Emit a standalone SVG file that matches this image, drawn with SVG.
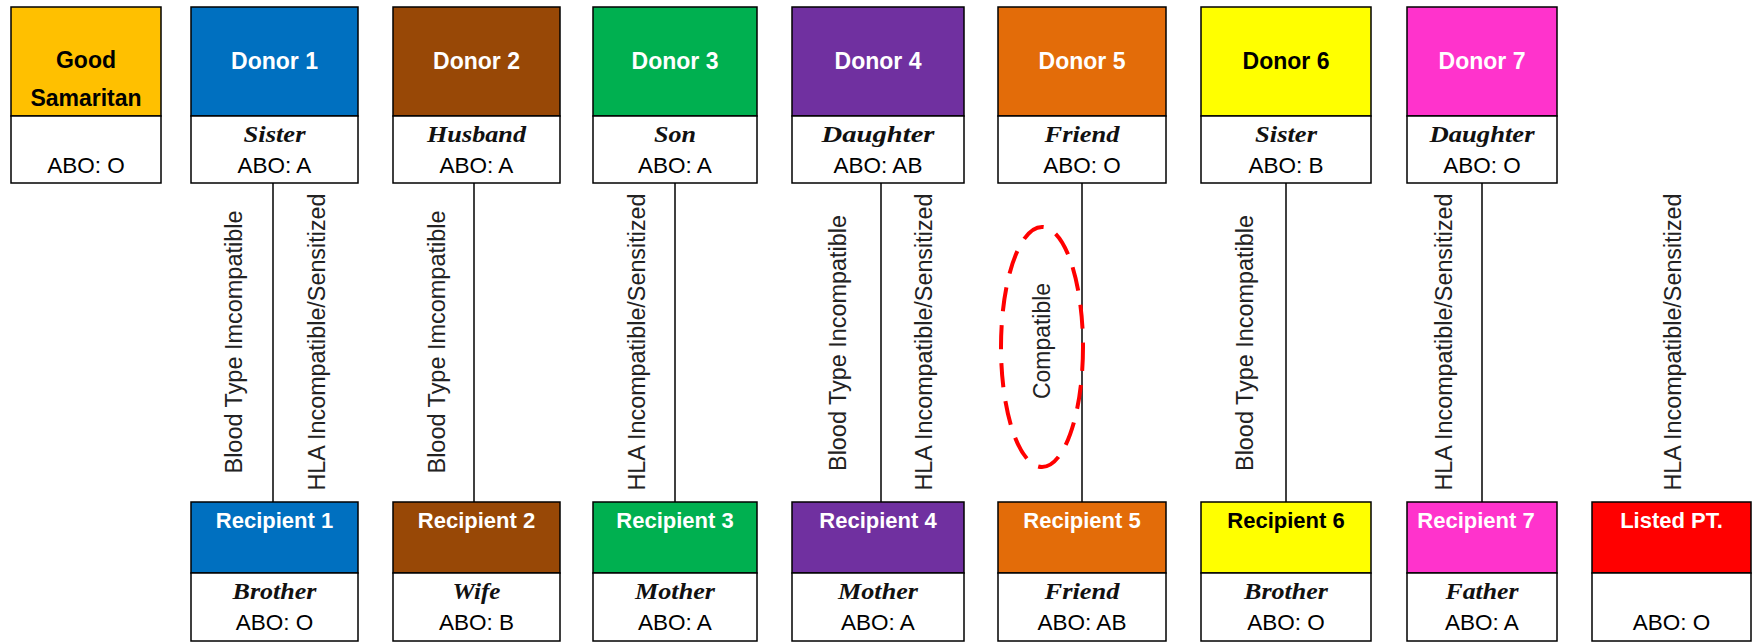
<svg xmlns="http://www.w3.org/2000/svg" width="1752" height="642" viewBox="0 0 1752 642">
<style>
  .box { stroke: #000; stroke-width: 1.5; }
  .wht { fill: #fff; stroke: #000; stroke-width: 1.5; }
  .hdr { font-family: "Liberation Sans", Arial, sans-serif; font-weight: bold; font-size: 23px; text-anchor: middle; fill: #fff; }
  .rhdr { font-family: "Liberation Sans", Arial, sans-serif; font-weight: bold; font-size: 22px; text-anchor: middle; fill: #fff; }
  .blk { fill: #000; }
  .rel { font-family: "Liberation Serif", "Times New Roman", serif; font-style: italic; font-weight: bold; font-size: 23px; text-anchor: middle; fill: #111; }
  .abo { font-family: "Liberation Sans", Arial, sans-serif; font-size: 22.5px; text-anchor: middle; fill: #000; }
  .lbl { font-family: "Liberation Sans", Arial, sans-serif; font-size: 23px; text-anchor: middle; fill: #222; }
  .conn { stroke: #000; stroke-width: 1.5; fill: none; }
  .oval { fill: none; stroke: #ff0000; stroke-width: 4; stroke-dasharray: 24 14; }
</style>

<!-- Top row -->
<g id="good-samaritan">
  <rect class="box" x="11" y="7" width="150" height="109" fill="#FFC000"/>
  <rect class="wht" x="11" y="116" width="150" height="67"/>
  <text class="hdr blk" x="86" y="68" font-size="21">Good</text>
  <text class="hdr blk" x="86" y="106" font-size="21">Samaritan</text>
  <text class="abo" x="86" y="173">ABO: O</text>
</g>
<g id="donor1">
  <rect class="box" x="191" y="7" width="167" height="109" fill="#0070C0"/>
  <rect class="wht" x="191" y="116" width="167" height="67"/>
  <text class="hdr" x="274.5" y="69">Donor 1</text>
  <text class="rel" x="274.5" y="142" textLength="62" lengthAdjust="spacingAndGlyphs">Sister</text>
  <text class="abo" x="274.5" y="173">ABO: A</text>
</g>
<g id="donor2">
  <rect class="box" x="393" y="7" width="167" height="109" fill="#984806"/>
  <rect class="wht" x="393" y="116" width="167" height="67"/>
  <text class="hdr" x="476.5" y="69">Donor 2</text>
  <text class="rel" x="476.5" y="142" textLength="99" lengthAdjust="spacingAndGlyphs">Husband</text>
  <text class="abo" x="476.5" y="173">ABO: A</text>
</g>
<g id="donor3">
  <rect class="box" x="593" y="7" width="164" height="109" fill="#00B050"/>
  <rect class="wht" x="593" y="116" width="164" height="67"/>
  <text class="hdr" x="675" y="69">Donor 3</text>
  <text class="rel" x="675" y="142" textLength="42" lengthAdjust="spacingAndGlyphs">Son</text>
  <text class="abo" x="675" y="173">ABO: A</text>
</g>
<g id="donor4">
  <rect class="box" x="792" y="7" width="172" height="109" fill="#7030A0"/>
  <rect class="wht" x="792" y="116" width="172" height="67"/>
  <text class="hdr" x="878" y="69">Donor 4</text>
  <text class="rel" x="878" y="142" textLength="113" lengthAdjust="spacingAndGlyphs">Daughter</text>
  <text class="abo" x="878" y="173">ABO: AB</text>
</g>
<g id="donor5">
  <rect class="box" x="998" y="7" width="168" height="109" fill="#E36C09"/>
  <rect class="wht" x="998" y="116" width="168" height="67"/>
  <text class="hdr" x="1082" y="69">Donor 5</text>
  <text class="rel" x="1082" y="142" textLength="75" lengthAdjust="spacingAndGlyphs">Friend</text>
  <text class="abo" x="1082" y="173">ABO: O</text>
</g>
<g id="donor6">
  <rect class="box" x="1201" y="7" width="170" height="109" fill="#FFFF00"/>
  <rect class="wht" x="1201" y="116" width="170" height="67"/>
  <text class="hdr blk" x="1286" y="69">Donor 6</text>
  <text class="rel" x="1286" y="142" textLength="62" lengthAdjust="spacingAndGlyphs">Sister</text>
  <text class="abo" x="1286" y="173">ABO: B</text>
</g>
<g id="donor7">
  <rect class="box" x="1407" y="7" width="150" height="109" fill="#FF33CC"/>
  <rect class="wht" x="1407" y="116" width="150" height="67"/>
  <text class="hdr" x="1482" y="69">Donor 7</text>
  <text class="rel" x="1482" y="142" textLength="105" lengthAdjust="spacingAndGlyphs">Daughter</text>
  <text class="abo" x="1482" y="173">ABO: O</text>
</g>

<!-- Bottom row -->
<g id="recipient1">
  <rect class="box" x="191" y="502" width="167" height="71" fill="#0070C0"/>
  <rect class="wht" x="191" y="573" width="167" height="68"/>
  <text class="rhdr" x="274.5" y="528">Recipient 1</text>
  <text class="rel" x="274.5" y="599" textLength="84" lengthAdjust="spacingAndGlyphs">Brother</text>
  <text class="abo" x="274.5" y="630">ABO: O</text>
</g>
<g id="recipient2">
  <rect class="box" x="393" y="502" width="167" height="71" fill="#984806"/>
  <rect class="wht" x="393" y="573" width="167" height="68"/>
  <text class="rhdr" x="476.5" y="528">Recipient 2</text>
  <text class="rel" x="476.5" y="599" textLength="48" lengthAdjust="spacingAndGlyphs">Wife</text>
  <text class="abo" x="476.5" y="630">ABO: B</text>
</g>
<g id="recipient3">
  <rect class="box" x="593" y="502" width="164" height="71" fill="#00B050"/>
  <rect class="wht" x="593" y="573" width="164" height="68"/>
  <text class="rhdr" x="675" y="528">Recipient 3</text>
  <text class="rel" x="675" y="599" textLength="80" lengthAdjust="spacingAndGlyphs">Mother</text>
  <text class="abo" x="675" y="630">ABO: A</text>
</g>
<g id="recipient4">
  <rect class="box" x="792" y="502" width="172" height="71" fill="#7030A0"/>
  <rect class="wht" x="792" y="573" width="172" height="68"/>
  <text class="rhdr" x="878" y="528">Recipient 4</text>
  <text class="rel" x="878" y="599" textLength="80" lengthAdjust="spacingAndGlyphs">Mother</text>
  <text class="abo" x="878" y="630">ABO: A</text>
</g>
<g id="recipient5">
  <rect class="box" x="998" y="502" width="168" height="71" fill="#E36C09"/>
  <rect class="wht" x="998" y="573" width="168" height="68"/>
  <text class="rhdr" x="1082" y="528">Recipient 5</text>
  <text class="rel" x="1082" y="599" textLength="75" lengthAdjust="spacingAndGlyphs">Friend</text>
  <text class="abo" x="1082" y="630">ABO: AB</text>
</g>
<g id="recipient6">
  <rect class="box" x="1201" y="502" width="170" height="71" fill="#FFFF00"/>
  <rect class="wht" x="1201" y="573" width="170" height="68"/>
  <text class="rhdr blk" x="1286" y="528">Recipient 6</text>
  <text class="rel" x="1286" y="599" textLength="84" lengthAdjust="spacingAndGlyphs">Brother</text>
  <text class="abo" x="1286" y="630">ABO: O</text>
</g>
<g id="recipient7">
  <rect class="box" x="1407" y="502" width="150" height="71" fill="#FF33CC"/>
  <rect class="wht" x="1407" y="573" width="150" height="68"/>
  <text class="rhdr" x="1476" y="528">Recipient 7</text>
  <text class="rel" x="1482" y="599" textLength="73" lengthAdjust="spacingAndGlyphs">Father</text>
  <text class="abo" x="1482" y="630">ABO: A</text>
</g>
<g id="listed-pt">
  <rect class="box" x="1592" y="502" width="159" height="71" fill="#FF0000"/>
  <rect class="wht" x="1592" y="573" width="159" height="68"/>
  <text class="rhdr" x="1671.5" y="528">Listed PT.</text>
  <text class="abo" x="1671.5" y="630">ABO: O</text>
</g>

<!-- Connectors -->
<g id="connectors">
  <line class="conn" x1="273" y1="183" x2="273" y2="502"/>
  <line class="conn" x1="474" y1="183" x2="474" y2="502"/>
  <line class="conn" x1="675" y1="183" x2="675" y2="502"/>
  <line class="conn" x1="881" y1="183" x2="881" y2="502"/>
  <line class="conn" x1="1082" y1="183" x2="1082" y2="502"/>
  <line class="conn" x1="1286" y1="183" x2="1286" y2="502"/>
  <line class="conn" x1="1482" y1="183" x2="1482" y2="502"/>
</g>

<!-- Connector labels -->
<g id="connector-labels">
  <text class="lbl" transform="translate(242,342) rotate(-90)" textLength="263" lengthAdjust="spacingAndGlyphs">Blood Type Imcompatible</text>
  <text class="lbl" transform="translate(325,342) rotate(-90)" textLength="297" lengthAdjust="spacingAndGlyphs">HLA Incompatible/Sensitized</text>
  <text class="lbl" transform="translate(445,342) rotate(-90)" textLength="263" lengthAdjust="spacingAndGlyphs">Blood Type Imcompatible</text>
  <text class="lbl" transform="translate(645,342) rotate(-90)" textLength="297" lengthAdjust="spacingAndGlyphs">HLA Incompatible/Sensitized</text>
  <text class="lbl" transform="translate(846,343) rotate(-90)" textLength="256" lengthAdjust="spacingAndGlyphs">Blood Type Incompatible</text>
  <text class="lbl" transform="translate(932,342) rotate(-90)" textLength="297" lengthAdjust="spacingAndGlyphs">HLA Incompatible/Sensitized</text>
  <text class="lbl" transform="translate(1050,341) rotate(-90)" textLength="116" lengthAdjust="spacingAndGlyphs">Compatible</text>
  <text class="lbl" transform="translate(1253,343) rotate(-90)" textLength="256" lengthAdjust="spacingAndGlyphs">Blood Type Incompatible</text>
  <text class="lbl" transform="translate(1452,342) rotate(-90)" textLength="297" lengthAdjust="spacingAndGlyphs">HLA Incompatible/Sensitized</text>
  <text class="lbl" transform="translate(1681,342) rotate(-90)" textLength="297" lengthAdjust="spacingAndGlyphs">HLA Incompatible/Sensitized</text>
</g>

<g id="compatible-highlight">
  <ellipse class="oval" cx="1042" cy="347" rx="41" ry="120"/>
</g>
</svg>
